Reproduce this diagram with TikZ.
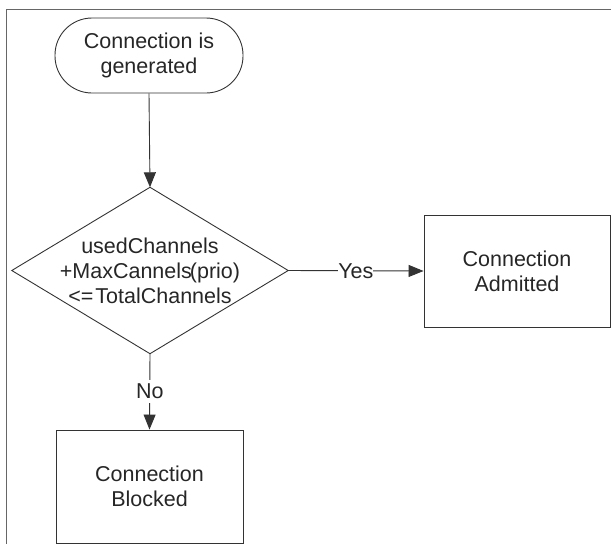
\documentclass[tikz,border=0pt]{standalone}
\usepackage{fontspec}
\setmainfont{Liberation Sans}
\usetikzlibrary{arrows.meta}
\begin{document}
\begin{tikzpicture}[x=1pt,y=1pt,
  every node/.style={text=black!85, font=\fontsize{21.5}{25}\selectfont},
  line/.style={draw=black!80, line width=0.9pt},
  arr/.style={line, -{Triangle[length=15pt,width=12pt]}},
  procbox/.style={line, rectangle, align=center, inner sep=0pt},
  startbox/.style={line, rectangle, rounded corners=37pt, align=center, inner sep=0pt, minimum width=188pt, minimum height=75pt},
  lbl/.style={fill=white, inner sep=0pt}
]
\useasboundingbox (0,0) rectangle (611,-544);
% frame
\draw[draw=black!60, line width=1pt] (611,-9) -- (6,-9) -- (6,-544);
% nodes
\node[startbox] (s) at (149,-55.5) {Connection is\\generated};
\node[align=center, inner sep=0pt, minimum width=276pt, minimum height=166pt] (d) at (150,-270.5)
  {usedChannels\\+MaxCannels\kern-2pt(prio)\\<=\kern2pt TotalChannels};
\draw[line] (d.north) -- (d.east) -- (d.south) -- (d.west) -- cycle;
\node[procbox, minimum width=186pt, minimum height=112pt] (a) at (517,-271) {Connection\\Admitted};
\node[procbox, minimum width=187pt, minimum height=113pt] (b) at (149.5,-486.5) {Connection\\Blocked};
% connectors
\draw[arr] (s.south) -- (d.north);
\draw[arr] (d.east) -- node[lbl] {Yes} (a.west);
\draw[arr] (d.south) -- node[lbl, inner ysep=4pt] {No} (b.north);
\end{tikzpicture}
\end{document}
